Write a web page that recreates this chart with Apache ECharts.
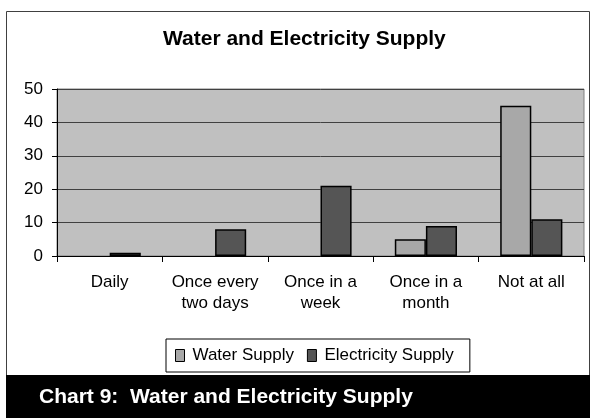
<!DOCTYPE html>
<html>
<head>
<meta charset="utf-8">
<script src="https://cdn.jsdelivr.net/npm/echarts@6/dist/echarts.min.js"></script>
<style>
  html, body { margin: 0; padding: 0; background: #fff; }
  #chart { width: 590px; height: 418px; }
</style>
</head>
<body>
<div id="chart"></div>
<script>
// data
const categories = ['Daily', 'Once every\ntwo days', 'Once in a\nweek', 'Once in a\nmonth', 'Not at all']
const waterSupply = [0, 0, 0, 5, 45]
const electricitySupply = [1, 8, 21, 9, 11]
const yTicks = [0, 10, 20, 30, 40, 50]

const font = 'Liberation Sans, Arial, sans-serif'
// zero bars get no outline, like the original
const toBars = arr => arr.map(v => (v === 0 ? { value: v, itemStyle: { borderWidth: 0 } } : v))

const chart = echarts.init(document.getElementById('chart'))
chart.setOption({
  animation: false,
  backgroundColor: '#fff',
  title: {
    text: 'Water and Electricity Supply',
    left: 158,
    top: 24,
    textStyle: { fontFamily: font, fontSize: 21, fontWeight: 'bold', color: '#000' }
  },
  graphic: [
    // outer chart border
    {
      type: 'rect',
      shape: { x: 6.5, y: 11.5, width: 583, height: 364 },
      style: { fill: 'none', stroke: '#404040', lineWidth: 1 },
      z: 0
    },
    // caption band
    {
      type: 'rect',
      shape: { x: 6, y: 375, width: 584, height: 43 },
      style: { fill: '#000' },
      z: 10
    },
    {
      type: 'text',
      left: 39,
      top: 387,
      style: {
        text: 'Chart 9:  Water and Electricity Supply',
        fill: '#fff',
        font: 'bold 21px ' + font
      },
      z: 11
    }
  ],
  legend: {
    left: 166,
    top: 339,
    itemGap: 13,
    itemWidth: 9,
    itemHeight: 12,
    padding: [8, 16, 8, 9],
    borderColor: '#000',
    borderWidth: 1,
    backgroundColor: '#fff',
    itemStyle: { borderColor: '#000', borderWidth: 1 },
    textStyle: { fontFamily: font, fontSize: 17, color: '#000', padding: [0, 0, 0, 3] },
    data: [
      { name: 'Water Supply', icon: 'rect' },
      { name: 'Electricity Supply', icon: 'rect' }
    ]
  },
  grid: {
    left: 57,
    right: 6,
    top: 89,
    bottom: 162,
    show: true,
    backgroundColor: '#c0c0c0',
    borderColor: '#808080',
    borderWidth: 1
  },
  xAxis: {
    type: 'category',
    data: categories,
    axisLine: { lineStyle: { color: '#000', width: 1 } },
    axisTick: { show: true, length: 6, lineStyle: { color: '#000' } },
    axisLabel: {
      fontFamily: font, fontSize: 17, color: '#000',
      margin: 16, lineHeight: 21, interval: 0
    }
  },
  yAxis: {
    type: 'value',
    min: 0,
    max: 50,
    interval: 10,
    axisLine: { show: true, lineStyle: { color: '#000', width: 1 } },
    axisTick: { show: true, length: 5, lineStyle: { color: '#000' } },
    axisLabel: {
      fontFamily: font, fontSize: 17, color: '#000', margin: 14,
      formatter: v => (yTicks.includes(v) ? String(v) : '')
    },
    splitLine: { show: true, lineStyle: { color: '#404040', width: 1 } }
  },
  series: [
    {
      name: 'Water Supply',
      type: 'bar',
      data: toBars(waterSupply),
      barGap: '0%',
      barCategoryGap: '41%',
      itemStyle: { color: '#a8a8a8', borderColor: '#000', borderWidth: 1.5 }
    },
    {
      name: 'Electricity Supply',
      type: 'bar',
      data: toBars(electricitySupply),
      itemStyle: { color: '#555555', borderColor: '#000', borderWidth: 1.5 }
    }
  ]
})
</script>
</body>
</html>
